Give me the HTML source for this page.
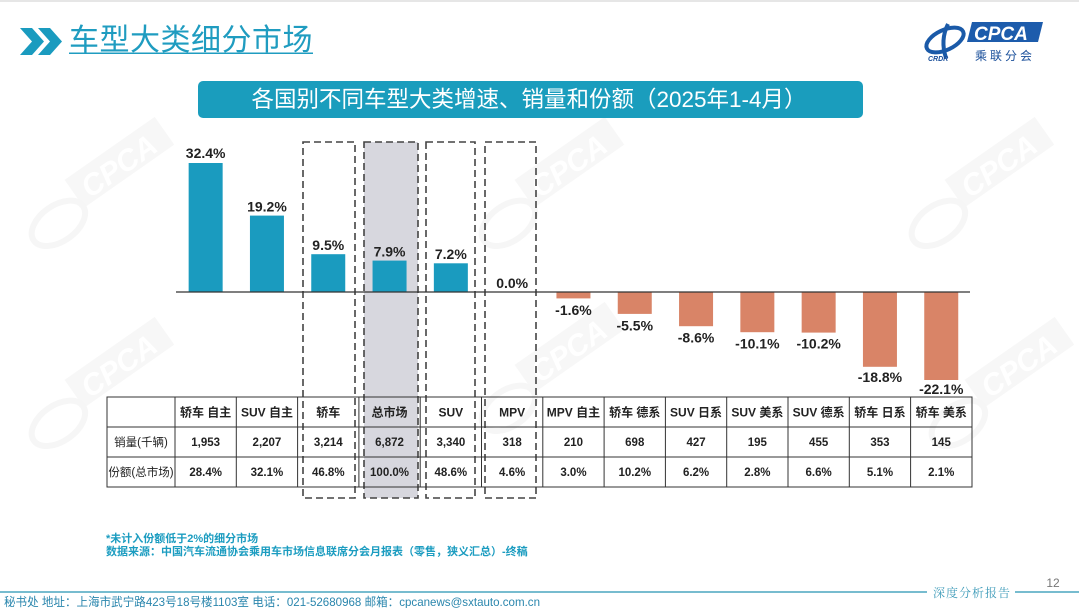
<!DOCTYPE html>
<html>
<head>
<meta charset="utf-8">
<style>
html,body{margin:0;padding:0;background:#fff;}
svg{display:block;}
text{font-family:"Liberation Sans","Noto Sans CJK SC",sans-serif;}
</style>
</head>
<body>
<svg width="1079" height="608" viewBox="0 0 1079 608" xmlns="http://www.w3.org/2000/svg">
  <rect x="0" y="0" width="1079" height="608" fill="#ffffff"/>
  <rect x="0" y="0" width="1079" height="2" fill="#e6e6e6"/>

  <!-- watermarks -->
  <g font-weight="bold" font-style="italic">
    <g transform="translate(110,175) rotate(-35)">
      <rect x="-40" y="-22" width="110" height="34" fill="#f7f7f7"/>
      <text x="-30" y="8" font-size="30" fill="#ffffff">CPCA</text>
      <ellipse cx="-70" cy="10" rx="30" ry="18" fill="none" stroke="#f6f6f6" stroke-width="6"/>
    </g>
    <g transform="translate(560,175) rotate(-35)">
      <rect x="-40" y="-22" width="110" height="34" fill="#f7f7f7"/>
      <text x="-30" y="8" font-size="30" fill="#ffffff">CPCA</text>
      <ellipse cx="-70" cy="10" rx="30" ry="18" fill="none" stroke="#f6f6f6" stroke-width="6"/>
    </g>
    <g transform="translate(990,175) rotate(-35)">
      <rect x="-40" y="-22" width="110" height="34" fill="#f7f7f7"/>
      <text x="-30" y="8" font-size="30" fill="#ffffff">CPCA</text>
      <ellipse cx="-70" cy="10" rx="30" ry="18" fill="none" stroke="#f6f6f6" stroke-width="6"/>
    </g>
    <g transform="translate(110,375) rotate(-35)">
      <rect x="-40" y="-22" width="110" height="34" fill="#f7f7f7"/>
      <text x="-30" y="8" font-size="30" fill="#ffffff">CPCA</text>
      <ellipse cx="-70" cy="10" rx="30" ry="18" fill="none" stroke="#f6f6f6" stroke-width="6"/>
    </g>
    <g transform="translate(560,360) rotate(-35)">
      <rect x="-40" y="-22" width="110" height="34" fill="#f7f7f7"/>
      <text x="-30" y="8" font-size="30" fill="#ffffff">CPCA</text>
      <ellipse cx="-70" cy="10" rx="30" ry="18" fill="none" stroke="#f6f6f6" stroke-width="6"/>
    </g>
    <g transform="translate(1010,375) rotate(-35)">
      <rect x="-40" y="-22" width="110" height="34" fill="#f7f7f7"/>
      <text x="-30" y="8" font-size="30" fill="#ffffff">CPCA</text>
      <ellipse cx="-70" cy="10" rx="30" ry="18" fill="none" stroke="#f6f6f6" stroke-width="6"/>
    </g>
  </g>

  <!-- header title -->
  <polygon points="20,28 32,28 44,41.5 32,55 20,55 32,41.5" fill="#1a9bbf"/>
  <polygon points="38,28 50,28 62,41.5 50,55 38,55 50,41.5" fill="#1a9bbf"/>
  <text x="69" y="50" font-size="30" fill="#1f9cc0" letter-spacing="0.5">车型大类细分市场</text>
  <rect x="69" y="52.5" width="244" height="1.5" fill="#1f9cc0"/>

  <!-- logo -->
  <g>
    <ellipse cx="945" cy="40" rx="20" ry="10" fill="none" stroke="#1a5aa8" stroke-width="4" transform="rotate(-25 945 40)"/>
    <path d="M948 24 Q940 40 946 58" stroke="#1a5aa8" stroke-width="4" fill="none"/>
    <text x="928" y="61" font-size="7" font-weight="bold" font-style="italic" fill="#1a4f9a">CRDR</text>
    <polygon points="972,22 1043,22 1038,42 967,42" fill="#1d5cac"/>
    <text x="974" y="40" font-size="19" font-style="italic" fill="#ffffff" font-weight="bold">CPCA</text>
    <text x="975" y="60" font-size="12" fill="#1a4f9a" letter-spacing="3">乘联分会</text>
  </g>

  <!-- banner -->
  <rect x="198" y="81" width="665" height="37" rx="5" fill="#1a9dbd"/>
  <text x="529" y="107" font-size="22.5" fill="#ffffff" text-anchor="middle">各国别不同车型大类增速、销量和份额（2025年1-4月）</text>

  <!-- shaded total market column -->
  <rect x="364" y="142" width="54" height="356" fill="#d7d7de"/>

  <!-- dashed boxes -->
  <g fill="none" stroke="#444444" stroke-width="1.6" stroke-dasharray="7,4">
    <rect x="303" y="142" width="52" height="356"/>
    <rect x="364" y="142" width="54" height="356"/>
    <rect x="426" y="142" width="49" height="356"/>
    <rect x="485" y="142" width="51" height="356"/>
  </g>

  <!-- bars -->
  <g fill="#1a9bbf">
    <rect x="188.65" y="163" width="34" height="129"/>
    <rect x="249.95" y="215.6" width="34" height="76.4"/>
    <rect x="311.25" y="254.2" width="34" height="37.8"/>
    <rect x="372.55" y="260.6" width="34" height="31.4"/>
    <rect x="433.85" y="263.3" width="34" height="28.7"/>
  </g>
  <g fill="#d98467">
    <rect x="556.45" y="292" width="34" height="6.4"/>
    <rect x="617.75" y="292" width="34" height="21.9"/>
    <rect x="679.05" y="292" width="34" height="34.2"/>
    <rect x="740.35" y="292" width="34" height="40.2"/>
    <rect x="801.65" y="292" width="34" height="40.6"/>
    <rect x="862.95" y="292" width="34" height="74.8"/>
    <rect x="924.25" y="292" width="34" height="88"/>
  </g>

  <!-- axis -->
  <line x1="176" y1="292" x2="970" y2="292" stroke="#333333" stroke-width="1.3"/>

  <!-- value labels -->
  <g font-size="14" font-weight="bold" fill="#222222" text-anchor="middle">
    <text x="205.65" y="158">32.4%</text>
    <text x="266.95" y="211.5">19.2%</text>
    <text x="328.25" y="250">9.5%</text>
    <text x="389.55" y="256.5">7.9%</text>
    <text x="450.85" y="259">7.2%</text>
    <text x="512.15" y="288">0.0%</text>
    <text x="573.45" y="315">-1.6%</text>
    <text x="634.75" y="330.5">-5.5%</text>
    <text x="696.05" y="342.5">-8.6%</text>
    <text x="757.35" y="348.5">-10.1%</text>
    <text x="818.65" y="348.5">-10.2%</text>
    <text x="879.95" y="382">-18.8%</text>
    <text x="941.25" y="394">-22.1%</text>
  </g>

  <!-- table grid -->
  <g stroke="#333333" stroke-width="1" fill="none">
    <rect x="107" y="397" width="865" height="90"/>
    <line x1="107" y1="427" x2="972" y2="427"/>
    <line x1="107" y1="457" x2="972" y2="457"/>
    <line x1="175" y1="397" x2="175" y2="487"/>
    <line x1="236.3" y1="397" x2="236.3" y2="487"/>
    <line x1="297.6" y1="397" x2="297.6" y2="487"/>
    <line x1="358.9" y1="397" x2="358.9" y2="487"/>
    <line x1="420.2" y1="397" x2="420.2" y2="487"/>
    <line x1="481.5" y1="397" x2="481.5" y2="487"/>
    <line x1="542.8" y1="397" x2="542.8" y2="487"/>
    <line x1="604.1" y1="397" x2="604.1" y2="487"/>
    <line x1="665.4" y1="397" x2="665.4" y2="487"/>
    <line x1="726.7" y1="397" x2="726.7" y2="487"/>
    <line x1="788" y1="397" x2="788" y2="487"/>
    <line x1="849.3" y1="397" x2="849.3" y2="487"/>
    <line x1="910.6" y1="397" x2="910.6" y2="487"/>
  </g>

  <!-- table header -->
  <g font-size="12" font-weight="bold" fill="#222222" text-anchor="middle">
    <text x="205.65" y="416.5">轿车 自主</text>
    <text x="266.95" y="416.5">SUV 自主</text>
    <text x="328.25" y="416.5">轿车</text>
    <text x="389.55" y="416.5">总市场</text>
    <text x="450.85" y="416.5">SUV</text>
    <text x="512.15" y="416.5">MPV</text>
    <text x="573.45" y="416.5">MPV 自主</text>
    <text x="634.75" y="416.5">轿车 德系</text>
    <text x="696.05" y="416.5">SUV 日系</text>
    <text x="757.35" y="416.5">SUV 美系</text>
    <text x="818.65" y="416.5">SUV 德系</text>
    <text x="879.95" y="416.5">轿车 日系</text>
    <text x="941.25" y="416.5">轿车 美系</text>
  </g>
  <!-- row labels -->
  <g font-size="11.5" fill="#222222" text-anchor="middle">
    <text x="141" y="446">销量(千辆)</text>
    <text x="141" y="476">份额(总市场)</text>
  </g>
  <!-- data -->
  <g font-size="11.5" font-weight="bold" fill="#222222" text-anchor="middle">
    <text x="205.65" y="446">1,953</text>
    <text x="266.95" y="446">2,207</text>
    <text x="328.25" y="446">3,214</text>
    <text x="389.55" y="446">6,872</text>
    <text x="450.85" y="446">3,340</text>
    <text x="512.15" y="446">318</text>
    <text x="573.45" y="446">210</text>
    <text x="634.75" y="446">698</text>
    <text x="696.05" y="446">427</text>
    <text x="757.35" y="446">195</text>
    <text x="818.65" y="446">455</text>
    <text x="879.95" y="446">353</text>
    <text x="941.25" y="446">145</text>

    <text x="205.65" y="476">28.4%</text>
    <text x="266.95" y="476">32.1%</text>
    <text x="328.25" y="476">46.8%</text>
    <text x="389.55" y="476">100.0%</text>
    <text x="450.85" y="476">48.6%</text>
    <text x="512.15" y="476">4.6%</text>
    <text x="573.45" y="476">3.0%</text>
    <text x="634.75" y="476">10.2%</text>
    <text x="696.05" y="476">6.2%</text>
    <text x="757.35" y="476">2.8%</text>
    <text x="818.65" y="476">6.6%</text>
    <text x="879.95" y="476">5.1%</text>
    <text x="941.25" y="476">2.1%</text>
  </g>

  <!-- notes -->
  <g font-size="11" font-weight="bold" fill="#1b9cc0">
    <text x="106" y="542">*未计入份额低于2%的细分市场</text>
    <text x="106" y="555">数据来源：中国汽车流通协会乘用车市场信息联席分会月报表（零售，狭义汇总）-终稿</text>
  </g>

  <!-- footer -->
  <line x1="0" y1="592" x2="927" y2="592" stroke="#4aa6bf" stroke-width="1.5"/>
  <line x1="1015" y1="592" x2="1079" y2="592" stroke="#4aa6bf" stroke-width="1.5"/>
  <text x="972" y="597" font-size="12" fill="#3b9ab8" text-anchor="middle" style="font-family:'Noto Serif CJK SC','Liberation Serif',serif;" letter-spacing="1">深度分析报告</text>
  <text x="1053" y="587" font-size="12" fill="#777777" text-anchor="middle">12</text>
  <text x="4" y="606" font-size="12" fill="#2a86ad" textLength="536" lengthAdjust="spacingAndGlyphs">秘书处  地址：上海市武宁路423号18号楼1103室  电话：021-52680968   邮箱：cpcanews@sxtauto.com.cn</text>
</svg>
</body>
</html>
